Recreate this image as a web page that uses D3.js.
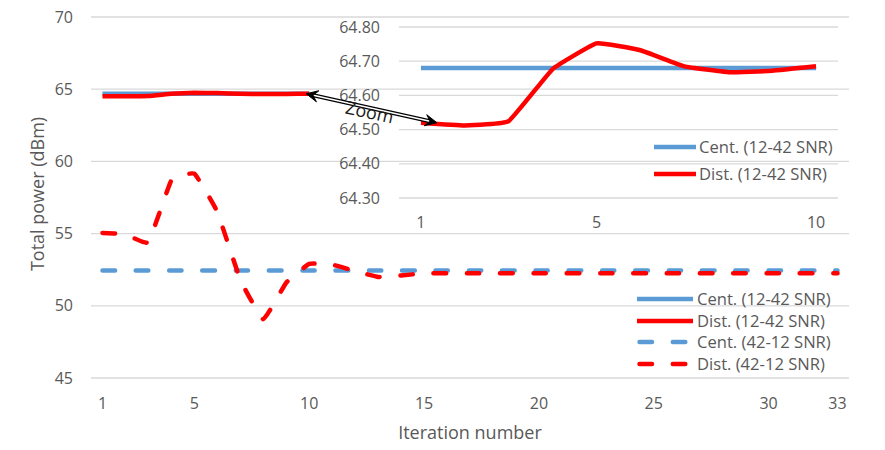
<!DOCTYPE html>
<html>
<head>
<meta charset="utf-8">
<script src="https://cdn.jsdelivr.net/npm/d3@7"></script>
<style>
  body { margin: 0; background: #fff; }
  text { font-family: "Open Sans", sans-serif; fill: #595959; }
</style>
</head>
<body>
<div id="chart"></div>
<script>
// iteration categories
const iterations = [1,2,3,4,5,6,7,8,9,10,11,12,13,14,15,16,17,18,19,20,21,22,23,24,25,26,27,28,29,30,31,32,33];
const xTickLabels = [1,5,10,15,20,25,30,33];
const yTicks = [45,50,55,60,65,70];

// series (dBm)
const centUp = [64.68,64.68,64.68,64.68,64.68,64.68,64.68,64.68,64.68,64.68];
const distUp = [64.52,64.512,64.525,64.677,64.752,64.732,64.685,64.668,64.672,64.685];
const centDown = [52.45,52.45,52.45,52.45,52.45,52.45,52.45,52.45,52.45,52.45,52.45,52.45,52.45,52.45,52.45,52.45,52.45,
  52.45,52.45,52.45,52.45,52.45,52.45,52.45,52.45,52.45,52.45,52.45,52.45,52.45,52.45,52.45,52.45];
const distDown = [55.05,54.95,54.4,58.7,59.15,56.5,51.8,49.07,51.6,52.9,52.85,52.4,52.0,52.1,52.25,52.25,52.25,
  52.25,52.25,52.25,52.25,52.25,52.25,52.25,52.25,52.25,52.25,52.25,52.25,52.25,52.25,52.25,52.25];

// zoomed inset
const insetIters = [1,2,3,4,5,6,7,8,9,10];
const insetTickLabels = [1,5,10];
const insetYTicks = [64.3,64.4,64.5,64.6,64.7,64.8];

const legendMain = ["Cent. (12-42 SNR)","Dist. (12-42 SNR)","Cent. (42-12 SNR)","Dist. (42-12 SNR)"];
const legendInset = ["Cent. (12-42 SNR)","Dist. (12-42 SNR)"];

const W = 885, H = 450;
const blue = "#5B9BD5", red = "#FF0000", grid = "#D9D9D9";

const svg = d3.select("#chart").append("svg")
  .attr("width", W).attr("height", H);

// main scales
const x = d3.scaleBand().domain(iterations).range([91, 849]);
const y = d3.scaleLinear().domain([45, 70]).range([378, 17]);
const cx = d => x(d) + x.bandwidth() / 2;

// gridlines
svg.append("g").selectAll("line").data(yTicks).join("line")
  .attr("x1", 91).attr("x2", 849)
  .attr("y1", d => y(d)).attr("y2", d => y(d))
  .attr("stroke", grid).attr("stroke-width", 1.3);

svg.append("g").selectAll("text").data(yTicks).join("text")
  .attr("x", 73).attr("y", d => y(d)).attr("dy", "0.35em")
  .attr("text-anchor", "end").style("font-size", "16px")
  .text(d => d);

svg.append("g").selectAll("text").data(xTickLabels).join("text")
  .attr("x", d => cx(d)).attr("y", 403).attr("dy", "0.35em")
  .attr("text-anchor", "middle").style("font-size", "16px")
  .text(d => d);

svg.append("text")
  .attr("x", 470).attr("y", 433).attr("dy", "0.35em")
  .attr("text-anchor", "middle").style("font-size", "18px")
  .text("Iteration number");

svg.append("text")
  .attr("transform", "translate(38,194) rotate(-90)")
  .attr("dy", "0.35em")
  .attr("text-anchor", "middle").style("font-size", "18px")
  .text("Total power (dBm)");

const curve = d3.curveCardinal.tension(0.7);
const lineMain = d3.line().x(d => cx(d[0])).y(d => y(d[1])).curve(curve);

function addLine(g, gen, xs, vals, color, dashed) {
  g.append("path")
    .datum(xs.map((d, i) => [d, vals[i]]))
    .attr("d", gen)
    .attr("fill", "none")
    .attr("stroke", color)
    .attr("stroke-width", 4.5)
    .attr("stroke-linecap", dashed ? "round" : "butt")
    .attr("stroke-linejoin", "round")
    .attr("stroke-dasharray", dashed ? "12.5,20.8" : null);
}

const mainLines = svg.append("g");
addLine(mainLines, lineMain, iterations, centDown, blue, true);
addLine(mainLines, lineMain, iterations, distDown, red, true);
addLine(mainLines, lineMain, insetIters, centUp, blue, false);
addLine(mainLines, lineMain, insetIters, distUp, red, false);

// main legend
const lg = svg.append("g");
legendMain.forEach((t, i) => {
  const ly = [299, 321, 342, 364][i];
  const dashed = i >= 2;
  lg.append("line")
    .attr("x1", dashed ? 639.5 : 637).attr("x2", dashed ? 689 : 693)
    .attr("y1", ly).attr("y2", ly)
    .attr("stroke", i % 2 ? red : blue).attr("stroke-width", 4.5)
    .attr("stroke-linecap", dashed ? "round" : "butt")
    .attr("stroke-dasharray", dashed ? "12.5,20.8" : null);
  lg.append("text")
    .attr("x", 697).attr("y", ly).attr("dy", "0.35em")
    .style("font-size", "16.6px")
    .text(t);
});

// inset chart
const xi = d3.scaleBand().domain(insetIters).range([399, 838]);
const yi = d3.scaleLinear().domain([64.3, 64.8]).range([198, 27]);
const cxi = d => xi(d) + xi.bandwidth() / 2;

const inset = svg.append("g");
inset.append("g").selectAll("line").data(insetYTicks).join("line")
  .attr("x1", 399).attr("x2", 838)
  .attr("y1", d => yi(d)).attr("y2", d => yi(d))
  .attr("stroke", grid).attr("stroke-width", 1.3);

inset.append("g").selectAll("text").data(insetYTicks).join("text")
  .attr("x", 380).attr("y", d => yi(d)).attr("dy", "0.35em")
  .attr("text-anchor", "end").style("font-size", "16px")
  .text(d => d.toFixed(2));

inset.append("g").selectAll("text").data(insetTickLabels).join("text")
  .attr("x", d => cxi(d)).attr("y", 222).attr("dy", "0.35em")
  .attr("text-anchor", "middle").style("font-size", "16px")
  .text(d => d);

const lineInset = d3.line().x(d => cxi(d[0])).y(d => yi(d[1])).curve(curve);
addLine(inset, lineInset, insetIters, centUp, blue, false);
addLine(inset, lineInset, insetIters, distUp, red, false);

legendInset.forEach((t, i) => {
  const ly = [147, 174][i];
  inset.append("line")
    .attr("x1", 654).attr("x2", 696)
    .attr("y1", ly).attr("y2", ly)
    .attr("stroke", i ? red : blue).attr("stroke-width", 4.5);
  inset.append("text")
    .attr("x", 699).attr("y", ly).attr("dy", "0.35em")
    .style("font-size", "16.6px")
    .text(t);
});

// zoom arrow between main 10th point and inset 1st point
const a0 = [cx(10) - 3, y(distUp[9])], a1 = [cxi(1) + 16, yi(distUp[0])];
const ang = Math.atan2(a1[1] - a0[1], a1[0] - a0[0]);
const arrow = svg.append("g");
arrow.append("line")
  .attr("x1", a0[0] + 6 * Math.cos(ang)).attr("y1", a0[1] + 6 * Math.sin(ang))
  .attr("x2", a1[0] - 6 * Math.cos(ang)).attr("y2", a1[1] - 6 * Math.sin(ang))
  .attr("stroke", "#000").attr("stroke-width", 4);
arrow.append("line")
  .attr("x1", a0[0] + 6 * Math.cos(ang)).attr("y1", a0[1] + 6 * Math.sin(ang))
  .attr("x2", a1[0] - 6 * Math.cos(ang)).attr("y2", a1[1] - 6 * Math.sin(ang))
  .attr("stroke", "#fff").attr("stroke-width", 1.6);
function head(p, a) {
  const l = 13, w = 0.45;
  const p1 = [p[0] + l * Math.cos(a - w), p[1] + l * Math.sin(a - w)];
  const p2 = [p[0] + l * Math.cos(a + w), p[1] + l * Math.sin(a + w)];
  const pm = [p[0] + 7 * Math.cos(a), p[1] + 7 * Math.sin(a)];
  arrow.append("path")
    .attr("d", `M${p1}L${p}L${p2}L${pm}Z`)
    .attr("fill", "#000").attr("stroke", "#000").attr("stroke-width", 1)
    .attr("stroke-linejoin", "miter");
}
head(a0, ang);
head(a1, ang + Math.PI);

const mid = [(a0[0] + a1[0]) / 2, (a0[1] + a1[1]) / 2];
arrow.append("text")
  .attr("transform", `translate(${mid[0] - 2},${mid[1] + 4}) rotate(${ang * 180 / Math.PI})`)
  .attr("dy", "0.35em").attr("text-anchor", "middle")
  .style("font-size", "18px").style("fill", "#1a1a1a")
  .text("Zoom");
</script>
</body>
</html>
